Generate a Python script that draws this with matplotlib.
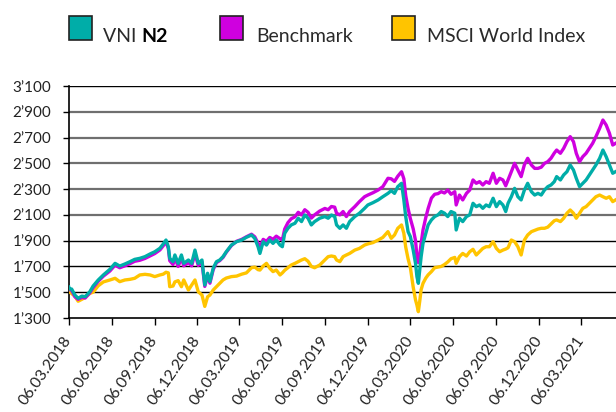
import matplotlib
matplotlib.use("Agg")
import matplotlib.pyplot as plt
import matplotlib.dates as mdates
import matplotlib.ticker as mticker
import matplotlib.patches as mpatches
import pandas as pd

plt.rcParams['font.family'] = ['Lato', 'DejaVu Sans']

# ---------------- data ----------------
start_date = "2018-03-06"
days_since_start = [
    0, 1, 6, 13, 20, 28, 35, 45, 52, 63, 74, 88, 99, 109, 120, 131, 141, 152, 163, 174,
    184, 195, 202, 208, 213, 216, 223, 227, 234, 241, 246, 256, 263, 270, 277,
    285, 291, 297, 302, 309, 316, 323, 330, 337, 348, 359, 370, 380, 391, 398, 405, 409, 416, 423, 430,
    437, 444, 452, 457, 462, 469, 476, 484, 491, 498, 505, 512, 519, 526, 537, 548, 555, 562, 569,
    573, 580, 587, 594, 601, 612, 622, 633, 640, 651, 662, 672, 683, 690, 697, 704, 712, 717, 721, 726,
    731, 737, 742, 745, 748, 751, 754, 758, 764, 769, 776, 783, 790, 797, 804, 811, 818, 826, 829, 836,
    843, 851, 858, 865,
    872, 879, 886, 893, 900, 908, 915, 922, 929, 935, 940, 947, 954, 961, 968, 975, 982, 990, 997, 1004,
    1011, 1018, 1025, 1032, 1039, 1044, 1052, 1059, 1066, 1073, 1080, 1086, 1093, 1100, 1107, 1114, 1121, 1128, 1136, 1143,
    1150, 1157, 1164, 1170,
]
vni_n2 = [
    1540, 1525, 1525, 1478, 1453, 1470, 1465, 1504, 1548, 1595, 1634, 1678, 1724, 1703, 1719, 1737, 1755, 1763, 1776, 1797,
    1814, 1841, 1874, 1905, 1853, 1763, 1737, 1789, 1724, 1789, 1724, 1750, 1724, 1827, 1724,
    1750, 1556, 1647, 1582, 1686, 1737, 1750, 1776, 1814, 1866, 1892, 1905, 1926, 1944, 1918, 1853, 1801, 1892, 1866, 1905,
    1879, 1905, 1866, 1853, 1957, 1996, 2022, 2035, 2074, 2048, 2099, 2074, 2022, 2048, 2074, 2087, 2074, 2099, 2087,
    2022, 1996, 2022, 1996, 2048, 2087, 2113, 2151, 2177, 2195, 2216, 2241, 2267, 2288, 2267, 2319, 2345, 2216, 2087, 1970,
    1931, 1827, 1724, 1621, 1569, 1672, 1776, 1879, 1957, 2022, 2061, 2087, 2100, 2126, 2113, 2087, 2126, 2113, 1983, 2074,
    2048, 2087, 2100, 2190,
    2164, 2177, 2151, 2177, 2164, 2229, 2164, 2203, 2177, 2126, 2190, 2241, 2306, 2241, 2216, 2293, 2345, 2280, 2254, 2267,
    2254, 2293, 2319, 2332, 2358, 2397, 2371, 2410, 2435, 2487, 2448, 2384, 2319, 2345, 2371, 2410, 2448, 2487, 2539, 2603,
    2551, 2487, 2423, 2435,
]
benchmark = [
    1530, 1520, 1515, 1465, 1445, 1460, 1455, 1495, 1535, 1585, 1625, 1665, 1710, 1690, 1705, 1722, 1740, 1748, 1762, 1782,
    1800, 1828, 1860, 1890, 1840, 1745, 1715, 1765, 1700, 1765, 1705, 1730, 1705, 1800, 1708,
    1735, 1545, 1630, 1570, 1675, 1730, 1745, 1770, 1810, 1862, 1895, 1910, 1930, 1950, 1930, 1880, 1850, 1910, 1895, 1925,
    1910, 1935, 1915, 1905, 1990, 2040, 2070, 2085, 2120, 2100, 2140, 2120, 2075, 2100, 2130, 2150, 2140, 2165, 2160,
    2113, 2100, 2126, 2087, 2126, 2164, 2203, 2241, 2254, 2272, 2293, 2319, 2384, 2380, 2360, 2400, 2435, 2380, 2250, 2150,
    2070, 1992, 1900, 1776, 1730, 1790, 1880, 1983, 2080, 2150, 2230, 2260, 2265, 2280, 2270, 2293, 2260, 2280, 2177, 2254,
    2216, 2267, 2293, 2371,
    2345, 2358, 2332, 2358, 2345, 2423, 2345, 2384, 2371, 2326, 2371, 2435, 2500, 2448, 2397, 2490, 2539, 2487, 2461, 2461,
    2470, 2500, 2513, 2540, 2580, 2603, 2578, 2616, 2668, 2707, 2668, 2578, 2513, 2552, 2578, 2616, 2655, 2707, 2772, 2836,
    2797, 2733, 2642, 2655,
]
msci_world = [
    1515, 1504, 1490, 1470, 1430, 1445, 1460, 1491, 1500, 1550, 1580, 1595, 1608, 1582, 1595, 1600, 1608, 1634, 1639, 1634,
    1621, 1634, 1640, 1655, 1650, 1543, 1548, 1580, 1590, 1543, 1595, 1517, 1556, 1595, 1504,
    1478, 1390, 1465, 1478, 1517, 1543, 1569, 1595, 1610, 1621, 1625, 1640, 1650, 1690, 1695, 1675, 1672, 1703, 1724, 1686,
    1660, 1672, 1634, 1650, 1670, 1690, 1711, 1724, 1737, 1750, 1760, 1740, 1700, 1690, 1711, 1750, 1776, 1781, 1776,
    1750, 1737, 1776, 1789, 1801, 1827, 1840, 1866, 1875, 1885, 1905, 1925, 1970, 1918, 1944, 1996, 2022, 1957, 1850, 1760,
    1690, 1540, 1440, 1400, 1349, 1430, 1520, 1569, 1610, 1635, 1660, 1690, 1695, 1700, 1715, 1735, 1760, 1770, 1724, 1776,
    1801, 1781, 1814, 1833,
    1789, 1814, 1840, 1853, 1853, 1892, 1840, 1814, 1827, 1835, 1845, 1905, 1892, 1853, 1789, 1905, 1944, 1970, 1980, 1990,
    1996, 1996, 2005, 2030, 2055, 2061, 2048, 2074, 2113, 2138, 2113, 2074, 2113, 2151, 2164, 2190, 2216, 2241, 2254, 2241,
    2229, 2241, 2203, 2216,
]
series_names = ["VNI ", "Benchmark", "MSCI World Index"]
tick_dates = ["2018-03-06", "2018-06-06", "2018-09-06", "2018-12-06", "2019-03-06", "2019-06-06",
              "2019-09-06", "2019-12-06", "2020-03-06", "2020-06-06", "2020-09-06", "2020-12-06", "2021-03-06"]
y_ticks = [1300, 1500, 1700, 1900, 2100, 2300, 2500, 2700, 2900, 3100]

# ---------------- styling ----------------
c_teal = "#00ADA8"
c_mag = "#CF00DF"
c_gold = "#FFC400"

dates = pd.Timestamp(start_date) + pd.to_timedelta(days_since_start, unit="D")

fig = plt.figure(figsize=(6.16, 4.12), dpi=100)
W, H = 616, 412
ax = fig.add_axes([68.8 / W, 1 - 318 / H, 1 - 68.8 / W, (318 - 86) / H])

ax.plot(dates, msci_world, color=c_gold, lw=2.4, solid_joinstyle="round", zorder=3)
ax.plot(dates, benchmark, color=c_mag, lw=2.4, solid_joinstyle="round", zorder=4)
ax.plot(dates, vni_n2, color=c_teal, lw=2.4, solid_joinstyle="round", zorder=5)

ax.set_ylim(1300, 3100)
ax.set_xlim(pd.Timestamp(start_date), pd.Timestamp(start_date) + pd.Timedelta(days=1171))
ax.set_yticks(y_ticks)
ax.yaxis.set_major_formatter(mticker.FuncFormatter(lambda v, p: f"{int(v):,}".replace(",", "\u2019")))
ax.set_xticks(pd.to_datetime(tick_dates))
ax.xaxis.set_major_formatter(mdates.DateFormatter("%d.%m.%Y"))

# gridlines
for v in y_ticks[1:]:
    if 2100 <= v <= 2900:
        ax.axhline(v, color="#6f6f6f", lw=1.6, zorder=1)
    else:
        ax.axhline(v, color="black", lw=1.0, zorder=1)

for s in ["top", "right"]:
    ax.spines[s].set_visible(False)
ax.spines["left"].set_linewidth(1.2)
ax.spines["bottom"].set_linewidth(1.2)

ax.tick_params(axis="y", direction="out", length=4.5, width=1, pad=8, labelsize=11, colors="black")
ax.tick_params(axis="x", direction="out", length=5, width=1, pad=9, labelsize=11.3)
for lbl in ax.get_xticklabels():
    lbl.set_rotation(55)
    lbl.set_ha("right")
    lbl.set_va("center")
    lbl.set_rotation_mode("anchor")
    lbl.set_color("#222222")
for lbl in ax.get_yticklabels():
    lbl.set_color("#222222")

# ---------------- legend ----------------
def px(x, y):
    return x / W, 1 - y / H

leg_items = [(68.5, c_teal), (219.5, c_mag), (392, c_gold)]
text_x = [102.7, 256, 427]
for (sx, col), tx, name in zip(leg_items, text_x, series_names):
    x0, y0 = px(sx, 39.5)
    fig.patches.append(mpatches.Rectangle((x0, y0), 23.2 / W, 23.5 / H, transform=fig.transFigure,
                                          facecolor=col, edgecolor="#222222", lw=1.2))
    fig.text(*px(tx, 41.5), name, fontsize=14, va="baseline", ha="left", color="#2a2a2a")

fig.canvas.draw()
r = fig.canvas.get_renderer()
t0 = fig.texts[0]
bb = t0.get_window_extent(renderer=r)
fig.text(bb.x1 / W, 1 - 41.5 / H, "N2", fontsize=14, fontweight="bold", va="baseline", ha="left", color="black")

fig.savefig("out.png", dpi=100)
